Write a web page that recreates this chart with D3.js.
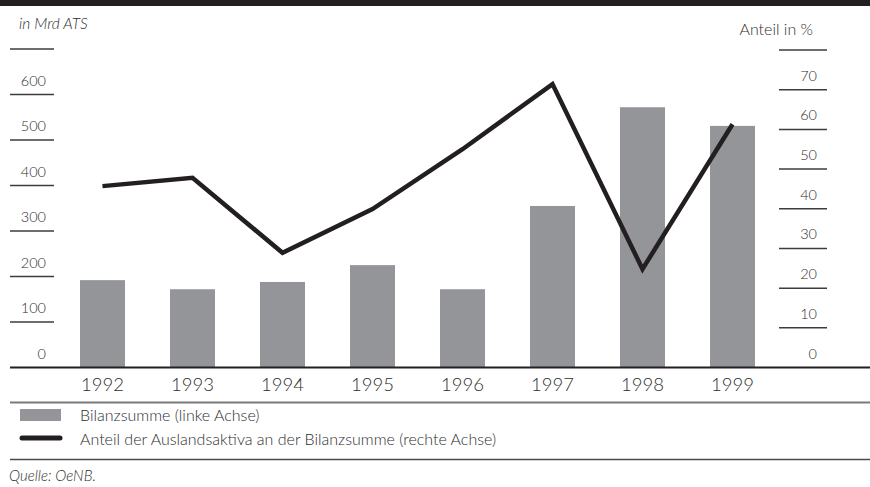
<!DOCTYPE html>
<html>
<head>
<meta charset="utf-8">
<script src="https://cdn.jsdelivr.net/npm/d3@7/dist/d3.min.js"></script>
<style>
  html, body { margin: 0; padding: 0; background: #fff; }
  svg { display: block; }
  text { font-family: Lato, "Open Sans", "DejaVu Sans", sans-serif; font-weight: 300; fill: #2e2e2e; }
</style>
</head>
<body>
<svg id="chart" width="870" height="487"></svg>
<script>
// Bilanzsumme (Mrd ATS) and Anteil der Auslandsaktiva (%)
const years = ["1992", "1993", "1994", "1995", "1996", "1997", "1998", "1999"];
const bilanzsumme = [192, 172, 188, 225, 172, 355, 572, 531];
const auslandsanteil = [45.7, 47.8, 28.9, 39.9, 55.0, 71.4, 24.8, 61.3];
const leftTicks = [0, 100, 200, 300, 400, 500, 600, 700];
const rightTicks = [0, 10, 20, 30, 40, 50, 60, 70, 80];

const W = 870, H = 487;
const svg = d3.select("#chart");

const barColor = "#939598";
const lineColor = "#231f20";
const ruleColor = "#3c3c3c";

const baseY = 367.5;
const x = d3.scalePoint().domain(years).range([102.5, 732.5]);
const yLeft = d3.scaleLinear().domain([0, 700]).range([baseY, 49]);
const yRight = d3.scaleLinear().domain([0, 80]).range([baseY, 50]);
const barW = 45;

// top band
svg.append("rect").attr("x", 0).attr("y", 0).attr("width", W).attr("height", 6).attr("fill", "#231f20");

// unit captions
svg.append("text").attr("x", 19).attr("y", 29).attr("font-size", 15.5)
  .attr("font-style", "italic").text("in Mrd ATS");
svg.append("text").attr("x", 813).attr("y", 35).attr("font-size", 16)
  .attr("text-anchor", "end").text("Anteil in %");

// left axis: rules with labels sitting above each rule
const lg = svg.append("g");
lg.selectAll("line").data(leftTicks.filter(d => d > 0)).join("line")
  .attr("x1", 10).attr("x2", 54)
  .attr("y1", d => yLeft(d)).attr("y2", d => yLeft(d))
  .attr("stroke", ruleColor).attr("stroke-width", 1.5);
lg.selectAll("text").data(leftTicks.filter(d => d < 700)).join("text")
  .attr("x", 46).attr("y", d => yLeft(d) - 9)
  .attr("text-anchor", "end").attr("font-size", 14.5)
  .text(d => d);

// right axis
const rg = svg.append("g");
rg.selectAll("line").data(rightTicks.filter(d => d > 0)).join("line")
  .attr("x1", 779).attr("x2", 827)
  .attr("y1", d => yRight(d)).attr("y2", d => yRight(d))
  .attr("stroke", ruleColor).attr("stroke-width", 1.5);
rg.selectAll("text").data(rightTicks.filter(d => d < 80)).join("text")
  .attr("x", 817).attr("y", d => yRight(d) - 9)
  .attr("text-anchor", "end").attr("font-size", 14.5)
  .text(d => d);

// bars
svg.append("g").selectAll("rect").data(years).join("rect")
  .attr("x", (d) => x(d) - barW / 2)
  .attr("y", (d, i) => yLeft(bilanzsumme[i]))
  .attr("width", barW)
  .attr("height", (d, i) => baseY - yLeft(bilanzsumme[i]))
  .attr("fill", barColor);

// line series
const line = d3.line().x((d, i) => x(years[i])).y(d => yRight(d));
svg.append("path").datum(auslandsanteil)
  .attr("d", line)
  .attr("fill", "none").attr("stroke", lineColor)
  .attr("stroke-width", 4.5).attr("stroke-linejoin", "miter");

// baseline
svg.append("line").attr("x1", 10).attr("x2", W).attr("y1", baseY).attr("y2", baseY)
  .attr("stroke", "#231f20").attr("stroke-width", 2);

// year labels
svg.append("g").selectAll("text").data(years).join("text")
  .attr("x", d => x(d)).attr("y", 391)
  .attr("text-anchor", "middle").attr("font-size", 18.5)
  .text(d => d);

// separators
svg.append("line").attr("x1", 10).attr("x2", W).attr("y1", 402.5).attr("y2", 402.5)
  .attr("stroke", "#7a7a7a").attr("stroke-width", 2);
svg.append("line").attr("x1", 10).attr("x2", W).attr("y1", 459.5).attr("y2", 459.5)
  .attr("stroke", "#4a4a4a").attr("stroke-width", 1.5);

// legend
svg.append("rect").attr("x", 20).attr("y", 409).attr("width", 41).attr("height", 12).attr("fill", barColor);
svg.append("text").attr("x", 80).attr("y", 421).attr("font-size", 16).text("Bilanzsumme (linke Achse)");
svg.append("line").attr("x1", 22).attr("x2", 60).attr("y1", 438).attr("y2", 438)
  .attr("stroke", lineColor).attr("stroke-width", 5).attr("stroke-linecap", "round");
svg.append("text").attr("x", 80).attr("y", 445).attr("font-size", 16)
  .text("Anteil der Auslandsaktiva an der Bilanzsumme (rechte Achse)");

// source
svg.append("text").attr("x", 9).attr("y", 481).attr("font-size", 15)
  .attr("font-style", "italic").text("Quelle: OeNB.");
</script>
</body>
</html>
